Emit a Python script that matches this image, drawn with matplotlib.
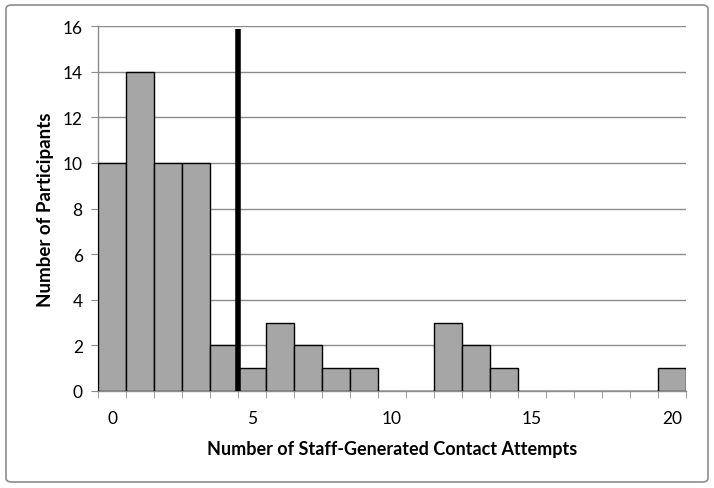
import matplotlib.pyplot as plt
from matplotlib.patches import FancyBboxPatch
from matplotlib.ticker import MultipleLocator

# Histogram of staff-generated contact attempts
attempts = list(range(21))
participants = [10, 14, 10, 10, 2, 1, 3, 2, 1, 1, 0, 0, 3, 2, 1, 0, 0, 0, 0, 0, 1]
cutoff = 4.5
x_ticks = [0, 5, 10, 15, 20]
y_ticks = [0, 2, 4, 6, 8, 10, 12, 14, 16]

plt.rcParams['font.family'] = ['Lato', 'DejaVu Sans']

fig = plt.figure(figsize=(7.14, 4.89), dpi=100)
ax = fig.add_axes([98 / 714, 1 - 392 / 489, (686 - 98) / 714, (392 - 27) / 489])

# Rounded grey frame around the whole chart
frame = FancyBboxPatch((6 / 714, 6 / 489), 702 / 714, 477 / 489,
                       boxstyle='round,pad=0,rounding_size=0.008',
                       transform=fig.transFigure, facecolor='none',
                       edgecolor='#8c8c8c', linewidth=1.2, zorder=0)
fig.patches.append(frame)

ax.bar(attempts, participants, width=1.0, color='#a6a6a6',
       edgecolor='black', linewidth=1.0, zorder=3)
ax.vlines(cutoff, 0, 15.85, color='black', linewidth=4, zorder=4)

ax.set_xlim(-0.5, 20.5)
ax.set_ylim(0, 16)
ax.set_xticks(x_ticks)
ax.xaxis.set_minor_locator(MultipleLocator(1, offset=0.5))
ax.tick_params(axis='x', which='major', length=0, pad=14, labelsize=12.5)
ax.tick_params(axis='x', which='minor', length=5, color='#8c8c8c', direction='out')
ax.set_yticks(y_ticks)
ax.tick_params(axis='y', length=5, color='#8c8c8c', labelsize=12.5, pad=6)

ax.yaxis.grid(True, color='#8c8c8c', linewidth=1.0, zorder=0)
ax.set_axisbelow(True)
for side in ['top', 'right']:
    ax.spines[side].set_visible(False)
for side in ['left', 'bottom']:
    ax.spines[side].set_color('#8c8c8c')
    ax.spines[side].set_linewidth(1.0)

ax.set_xlabel('Number of Staff-Generated Contact Attempts',
              fontsize=13, fontweight='bold', labelpad=10)
ax.set_ylabel('Number of Participants', fontsize=13.5, fontweight='bold', labelpad=6)

fig.savefig('out.png', dpi=100)
